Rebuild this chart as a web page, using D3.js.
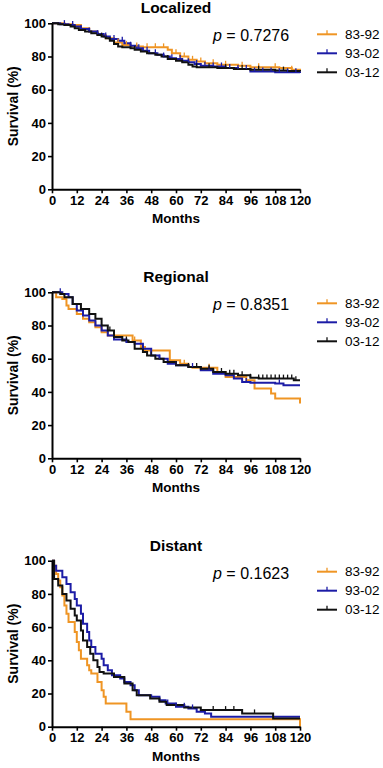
<!DOCTYPE html>
<html>
<head>
<meta charset="utf-8">
<script src="https://cdn.jsdelivr.net/npm/d3@7"></script>
<style>
  body { margin: 0; background: #fff; }
  svg { display: block; }
</style>
</head>
<body>
<svg id="chart" width="383" height="768"></svg>
<script>
// Kaplan-Meier steps: [month, survival %]
const localized8392 = [[0,100],[6,99.5],[10,99],[14,97],[18,95],[22,93],[26,91],[30,88.5],[34,87],[38,86],[44,85.5],[56,84],[58,82],[62,80],[66,78],[70,77],[74,76],[80,75],[90,74.5],[96,73.5],[110,73],[116,72],[120,71.5]];
const localized9302 = [[0,100],[4,99.5],[8,99],[11,98],[14,96.5],[18,95],[22,93.5],[25,92],[28,90.5],[32,89.5],[35,88],[38,86.5],[41,85],[44,83.5],[47,82],[51,81],[54,80],[57,79],[60,78.5],[63,77.5],[66,76.5],[69,75.5],[72,74.5],[78,74],[84,73],[90,72.5],[96,71],[108,70.5],[120,70]];
const localized0312 = [[0,100],[3,99.5],[6,99],[9,98],[11,97],[13,96],[16,95],[19,94],[22,93],[24,92],[26,91],[28,89.5],[30,87.5],[32,86],[34,85.5],[38,85],[40,84],[43,83],[46,82],[50,81],[53,80],[56,78.5],[60,77.5],[63,76.5],[66,75],[68,74],[70,73.5],[80,73],[88,72.5],[96,72],[108,71.5],[114,71.2],[120,71]];

const regional8392 = [[0,100],[2,97],[5,96],[7,92],[8,90],[12,87],[15,84],[18,82],[21,79],[24,76],[27,74],[39,71],[43,67],[45,65],[57,59],[62,57],[66,55],[68,54.5],[80,52],[84,49],[94,47],[98,42],[106,39],[108,36],[120,33]];
const regional9302 = [[0,100],[5,99],[8,97],[10,93],[12,89],[15,86],[18,83],[21,80],[24,77],[27,74],[30,71.5],[36,70],[40,69],[44,66],[48,62],[52,60],[56,57],[60,56],[66,55],[72,53],[78,51],[84,50],[88,48],[92,46],[96,45.5],[108,45],[112,44],[120,44]];
const regional0312 = [[0,100],[4,99],[6,97],[10,93],[14,90],[18,87],[21,84],[24,80],[27,77],[30,73],[34,71],[37,70],[40,66],[44,64],[46,62],[50,60],[54,58],[60,56],[66,55],[72,54],[78,52],[84,51],[90,50],[96,48.5],[100,48],[117,47],[120,47]];

const distant8392 = [[0,100],[1,97],[2,92],[3,88],[4,84],[5,79],[6,73],[7,68],[8,63],[11,57],[12,51],[13,46],[14,41],[17,37],[18,34],[19,32],[22,27],[24,22],[25,18],[26,14],[36,9],[38,4.5],[120,0]];
const distant9302 = [[0,100],[1,97],[2,94],[5,90],[7,86],[9,81],[11,77],[12,73],[14,68],[15,62],[17,57],[18,52],[19,48],[21,44],[24,41],[25,37],[27,34],[29,31],[33,29],[35,27],[38,25],[40,22],[42,19],[48,18],[52,16],[55,14],[60,12],[66,11],[70,9],[74,8],[77,6],[120,6]];
const distant0312 = [[0,100],[1,89],[3,85],[5,80],[7,76],[9,71],[11,67],[12,64],[14,58],[15,52],[17,48],[18.5,44],[20,40],[22,36],[23,33],[25,32],[30,30],[35,26],[39,22],[41,19],[47.5,17],[52,15],[55.5,13],[64,11.6],[72,10],[92,8],[107,5],[120,5]];

// censored observations (months)
const localizedCens8392 = [32,36,41,46,50,54,60,64,68,72,78,84,92,100,108,116];
const localizedCens9302 = [6,10,14,18,22,26,30,34,38,42,46,50,54,58,62,66,70,74,78,82,86,90,94,98,102,106,110,114,118];
const localizedCens0312 = [24,40,56,70,76,84,92,100,112];
const regionalCens8392 = [40,64,76];
const regionalCens9302 = [4,36,44,52,60,68,76,94,110];
const regionalCens0312 = [28,36,48,60,66,70,76,82,86,88,92,96,100,102,104,106,108,110,112,114,116,118];
const distantCens8392 = [];
const distantCens9302 = [56,60,64,68];
const distantCens0312 = [78,84,88,98];

const seriesNames = ["83-92", "93-02", "03-12"];
const seriesColors = ["#ef9524", "#1c1ca6", "#111111"];
const panelTitles = ["Localized", "Regional", "Distant"];
const pValues = ["0.7276", "0.8351", "0.1623"];
const xTicks = [0,12,24,36,48,60,72,84,96,108,120];
const yTicks = [0,20,40,60,80,100];

const panels = [
  { title: panelTitles[0], p: pValues[0], top: 23.3,
    curves: [localized8392, localized9302, localized0312],
    cens: [localizedCens8392, localizedCens9302, localizedCens0312] },
  { title: panelTitles[1], p: pValues[1], top: 292.3,
    curves: [regional8392, regional9302, regional0312],
    cens: [regionalCens8392, regionalCens9302, regionalCens0312] },
  { title: panelTitles[2], p: pValues[2], top: 560.7,
    curves: [distant8392, distant9302, distant0312],
    cens: [distantCens8392, distantCens9302, distantCens0312] }
];

const font = "Liberation Sans, Arial, sans-serif";
const left = 52, plotW = 248, plotH = 166;
const svg = d3.select("#chart");

const x = d3.scaleLinear().domain([0, 120]).range([0, plotW]);
const y = d3.scaleLinear().domain([0, 100]).range([plotH, 0]);

// value of a step curve at time t
function stepAt(curve, t) {
  let v = curve[0][1];
  curve.forEach(d => { if (d[0] <= t) v = d[1]; });
  return v;
}

const line = d3.line()
  .x(d => x(d[0]))
  .y(d => y(d[1]))
  .curve(d3.curveStepAfter);

panels.forEach(panel => {
  const g = svg.append("g")
    .attr("transform", `translate(${left},${panel.top})`);

  // title
  g.append("text")
    .attr("x", plotW / 2)
    .attr("y", -10)
    .attr("text-anchor", "middle")
    .attr("font-family", font)
    .attr("font-size", 15.5)
    .attr("font-weight", "bold")
    .text(panel.title);

  // curves (black drawn last, on top)
  [0, 1, 2].forEach(i => {
    g.append("path")
      .attr("d", line(panel.curves[i]))
      .attr("fill", "none")
      .attr("stroke", seriesColors[i])
      .attr("stroke-width", 2);
  });
  [0, 1, 2].forEach(i => {
    g.selectAll(null)
      .data(panel.cens[i])
      .enter().append("line")
      .attr("x1", d => x(d)).attr("x2", d => x(d))
      .attr("y1", d => y(stepAt(panel.curves[i], d)))
      .attr("y2", d => y(stepAt(panel.curves[i], d)) - 4)
      .attr("stroke", seriesColors[i])
      .attr("stroke-width", 1.3);
  });

  // axes
  const xAxis = g.append("g")
    .attr("transform", `translate(0,${plotH})`)
    .call(d3.axisBottom(x).tickValues(xTicks).tickSize(4).tickPadding(2).tickSizeOuter(0));
  const yAxis = g.append("g")
    .call(d3.axisLeft(y).tickValues(yTicks).tickSize(4).tickPadding(2).tickSizeOuter(0));

  [xAxis, yAxis].forEach(ax => {
    ax.select(".domain").attr("stroke", "#000").attr("stroke-width", 2);
    ax.selectAll(".tick line").attr("stroke", "#000").attr("stroke-width", 1.6);
    ax.selectAll("text")
      .attr("fill", "#000")
      .attr("font-family", font)
      .attr("font-size", 13)
      .attr("font-weight", "bold");
  });

  // axis labels
  g.append("text")
    .attr("x", plotW / 2)
    .attr("y", plotH + 34)
    .attr("text-anchor", "middle")
    .attr("font-family", font)
    .attr("font-size", 13.5)
    .attr("font-weight", "bold")
    .text("Months");

  g.append("text")
    .attr("transform", `rotate(-90)`)
    .attr("x", -plotH / 2)
    .attr("y", -34)
    .attr("text-anchor", "middle")
    .attr("font-family", font)
    .attr("font-size", 14)
    .attr("font-weight", "bold")
    .text("Survival (%)");

  // p value
  const pt = g.append("text")
    .attr("x", 213 - left)
    .attr("y", 18)
    .attr("font-family", font)
    .attr("font-size", 16);
  pt.append("tspan").attr("font-style", "italic").text("p");
  pt.append("tspan").text(" = " + panel.p);

  // legend
  const lg = g.selectAll(".legend")
    .data(seriesNames)
    .enter().append("g")
    .attr("class", "legend")
    .attr("transform", (d, i) => `translate(${317 - left},${11 + i * 19})`);
  lg.append("line")
    .attr("x1", 0).attr("x2", 20)
    .attr("stroke", (d, i) => seriesColors[i])
    .attr("stroke-width", 2);
  lg.append("line")
    .attr("x1", 10).attr("x2", 10).attr("y1", 0).attr("y2", -4)
    .attr("stroke", (d, i) => seriesColors[i])
    .attr("stroke-width", 1.3);
  lg.append("text")
    .attr("x", 28)
    .attr("dy", "0.35em")
    .attr("font-family", font)
    .attr("font-size", 13.5)
    .text(d => d);
});
</script>
</body>
</html>
